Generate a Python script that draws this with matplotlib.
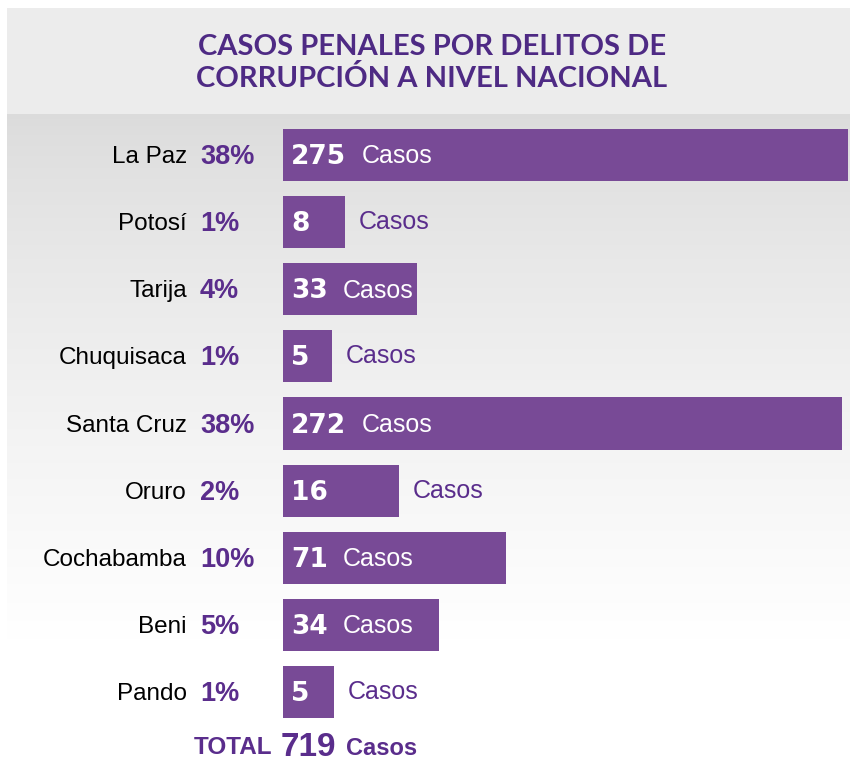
import numpy as np
import matplotlib.pyplot as plt
from matplotlib.patches import Rectangle

# datos
departamentos = ['La Paz', 'Potosí', 'Tarija', 'Chuquisaca', 'Santa Cruz',
                 'Oruro', 'Cochabamba', 'Beni', 'Pando']
porcentajes = ['38%', '1%', '4%', '1%', '38%', '2%', '10%', '5%', '1%']
casos = [275, 8, 33, 5, 272, 16, 71, 34, 5]
# largo de barra tal como aparece en la infografia (no es proporcional)
largo_barra = [565, 62, 134, 49, 559, 116, 223, 156, 51]
total = 719
titulo = 'CASOS PENALES POR DELITOS DE\nCORRUPCIÓN A NIVEL NACIONAL'

W, H = 850, 763
morado = '#784A96'
morado_txt = '#5A2D8C'
titulo_col = '#4E2A84'
fuente = ['Liberation Sans', 'DejaVu Sans']

fig = plt.figure(figsize=(W / 100, H / 100), dpi=100)
fig.patch.set_facecolor('white')

# fondo
bg = fig.add_axes([0, 0, 1, 1])
bg.set_xlim(0, W)
bg.set_ylim(H, 0)
bg.axis('off')
g = np.linspace(0, 1, 300) ** 0.8
col = 0.86 + (1.0 - 0.86) * g
img = np.repeat(np.dstack([col, col, col])[0][:, None, :], 2, axis=1)
bg.imshow(img, extent=(7, W, 640, 114), aspect='auto', zorder=0)
bg.add_patch(Rectangle((7, 8), W - 7, 106, color='#ECECEC', zorder=1, lw=0))
bg.text(432, 63, titulo, ha='center', va='center', fontsize=21,
        fontweight='bold', color=titulo_col, linespacing=1.25,
        family=['Lato', 'DejaVu Sans'])

# barras
x0, x1 = 283, W
yt, yb = 121.5, 725.5
ax = fig.add_axes([x0 / W, 1 - yb / H, (x1 - x0) / W, (yb - yt) / H])
ax.set_xlim(0, x1 - x0)
ax.set_ylim(len(casos) - 0.5, -0.5)
ax.axis('off')
ax.patch.set_alpha(0)

pos = np.arange(len(casos))
ax.barh(pos, largo_barra, height=0.775, color=morado, left=0)

for i, (d, p, c, L) in enumerate(zip(departamentos, porcentajes, casos, largo_barra)):
    ax.text(-96, i + 0.03, d, ha='right', va='center', fontsize=17.5,
            color='black', family=fuente, clip_on=False)
    ax.text(-83, i + 0.03, p, ha='left', va='center', fontsize=19.5,
            color=morado_txt, fontweight='bold', family=fuente, clip_on=False)
    num = ax.text(8, i + 0.03, str(c), ha='left', va='center', fontsize=19,
                  color='white', fontweight='bold', family='DejaVu Sans')
    if c >= 30:
        ax.annotate('Casos', xy=(1, i + 0.02), xycoords=(num, 'data'),
                    xytext=(11, 0), textcoords='offset points', va='center',
                    ha='left', fontsize=18, color='white', family=fuente)
    else:
        ax.annotate('Casos', xy=(L, i), xycoords='data', xytext=(10, 0),
                    textcoords='offset points', va='center', ha='left',
                    fontsize=18, color=morado_txt, family=fuente,
                    annotation_clip=False)

# total
yt_row = len(casos) - 1 + 0.83
ax.text(-11, yt_row, 'TOTAL', ha='right', va='center', fontsize=17.5,
        fontweight='bold', color=morado_txt, family=fuente, clip_on=False)
tot = ax.text(-2, yt_row, str(total), ha='left', va='center', fontsize=24,
              fontweight='bold', color=morado_txt, family=fuente, clip_on=False)
ax.annotate('Casos', xy=(1, yt_row + 0.02), xycoords=(tot, 'data'),
            xytext=(7, 0), textcoords='offset points', va='center',
            ha='left', fontsize=17, fontweight='bold', color=morado_txt,
            family=fuente, annotation_clip=False)

fig.savefig('out.png', dpi=100, facecolor='white')
